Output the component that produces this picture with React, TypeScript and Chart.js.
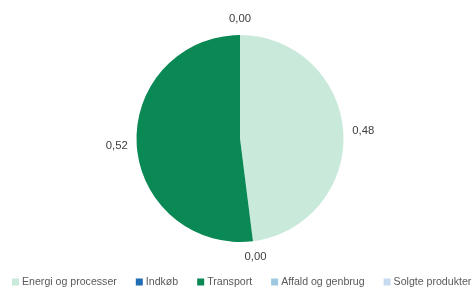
import React, { useEffect, useRef } from "react";
import { Chart, registerables } from "chart.js";

Chart.register(...registerables);

const categories = ["Energi og processer", "Indkøb", "Transport", "Affald og genbrug", "Solgte produkter"];
const values = [0.48, 0.0, 0.52, 0.0, 0.0];
const colors = ["#c9e9db", "#1f6db4", "#0a8955", "#9ecae1", "#c6dbef"];

const FONT = "10.6px 'Liberation Sans', sans-serif";

const labelPlugin = {
  id: "outLabels",
  afterDatasetsDraw(chart: any) {
    const ctx = chart.ctx;
    const meta = chart.getDatasetMeta(0);
    ctx.save();
    ctx.font = "11.3px 'Liberation Sans', sans-serif";
    ctx.fillStyle = "#404040";
    ctx.textAlign = "center";
    ctx.textBaseline = "middle";
    const drawn: string[] = [];
    meta.data.forEach((arc: any, i: number) => {
      const { x, y, startAngle, endAngle, outerRadius } = arc.getProps(["x", "y", "startAngle", "endAngle", "outerRadius"], true);
      const mid = (startAngle + endAngle) / 2;
      const r = outerRadius + 16;
      const lx = x + Math.cos(mid) * (r + 4);
      const ly = y + Math.sin(mid) * r;
      const key = Math.round(lx) + "," + Math.round(ly);
      if (drawn.includes(key)) return;
      drawn.push(key);
      ctx.fillText(values[i].toFixed(2).replace(".", ","), lx, ly);
    });
    ctx.restore();
  },
};

const legendPlugin = {
  id: "customLegend",
  afterDraw(chart: any) {
    const ctx = chart.ctx;
    ctx.save();
    ctx.font = FONT;
    ctx.textBaseline = "middle";
    ctx.textAlign = "left";
    let x = 12;
    const y = 282;
    categories.forEach((c, i) => {
      ctx.fillStyle = colors[i];
      ctx.fillRect(x, y - 3.5, 7, 7);
      ctx.fillStyle = "#595959";
      ctx.fillText(c, x + 10, y);
      x += 10 + ctx.measureText(c).width + 19;
    });
    ctx.restore();
  },
};

export default function App() {
  const ref = useRef<HTMLCanvasElement>(null);
  useEffect(() => {
    const chart = new Chart(ref.current!, {
      type: "pie",
      data: {
        labels: categories,
        datasets: [{ data: values, backgroundColor: colors, borderWidth: 0 }],
      },
      options: {
        animation: false,
        responsive: false,
        layout: { padding: { top: 35, bottom: 47, left: 4 } },
        plugins: {
          legend: { display: false },
          tooltip: { enabled: false },
        },
      },
      plugins: [labelPlugin, legendPlugin],
    });
    return () => chart.destroy();
  }, []);
  return (
    <div style={{ position: "fixed", left: 0, top: 0, width: 476, height: 289, background: "#fff" }}>
      <canvas ref={ref} width={476} height={289} />
    </div>
  );
}
